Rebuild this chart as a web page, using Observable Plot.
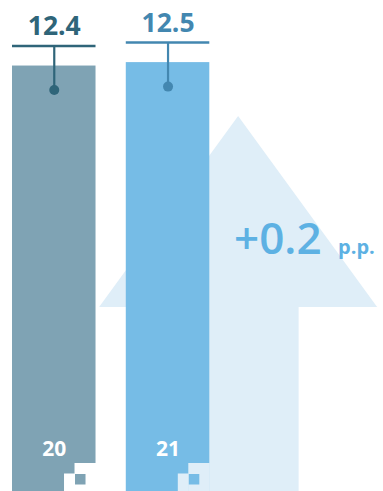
<!DOCTYPE html>
<html>
<head>
<meta charset="utf-8">
<script src="https://cdn.jsdelivr.net/npm/d3@7"></script>
<script src="https://cdn.jsdelivr.net/npm/@observablehq/plot@0.6"></script>
<style>
  html, body { margin: 0; padding: 0; background: #fff; }
  #chart svg { display: block; font-family: "Open Sans", sans-serif; }
</style>
</head>
<body>
<div id="chart"></div>
<script>
// ---- data ----
const years = ["20", "21"];
const values = [12.4, 12.5];
const valueLabels = ["12.4", "12.5"];
const changeLabel = "+0.2";
const changeUnit = "p.p.";

// ---- styles ----
const barColors = ["#7fa3b4", "#76bce6"];
const accentColors = ["#2f6579", "#4387b0"];
const arrowColor = "#dfeef8";
const changeColor = "#5db1e3";

const data = years.map((y, i) => ({year: y, value: values[i], label: valueLabels[i], bar: barColors[i], accent: accentColors[i]}));

const W = 383, H = 491;

// decorative up-arrow drawn behind the bars, anchored to the second bar
function arrowMark(index, scales, values, dims) {
  const x = scales.x, y = scales.y;
  const bw = x.bandwidth();
  const x0 = x(years[1]);
  const top = y(data[1].value);
  const cx = x0 + bw * 1.345;
  const shaftHalf = 60.5, headHalf = 139;
  const tipY = top + 54, baseY = top + 245;
  const B = dims.height;
  const p = d3.path();
  p.moveTo(cx, tipY);
  p.lineTo(cx + headHalf, baseY);
  p.lineTo(cx + shaftHalf, baseY);
  p.lineTo(cx + shaftHalf, B);
  p.lineTo(cx - shaftHalf, B);
  p.lineTo(cx - shaftHalf, baseY);
  p.lineTo(cx - headHalf, baseY);
  p.closePath();
  const g = d3.create("svg:g");
  g.append("path").attr("d", p.toString()).attr("fill", arrowColor);
  return g.node();
}

// pixel-step notch at the bottom-right corner of each bar
function notchMark(index, scales, values, dims) {
  const x = scales.x;
  const bw = x.bandwidth();
  const B = dims.height;
  const u = 10.5;
  const g = d3.create("svg:g");
  data.forEach((d, i) => {
    const R = x(d.year) + bw;
    const bg = i === 0 ? "#ffffff" : arrowColor;
    g.append("rect").attr("x", R - 2 * u).attr("y", B - 28).attr("width", 2 * u + 0.5).attr("height", 30).attr("fill", bg);
    g.append("rect").attr("x", R - 3 * u).attr("y", B - 17.5).attr("width", u + 0.5).attr("height", 20).attr("fill", bg);
    g.append("rect").attr("x", R - 2 * u + 0.5).attr("y", B - 17).attr("width", u).attr("height", u).attr("fill", d.bar);
  });
  return g.node();
}

const chart = Plot.plot({
  width: W,
  height: H,
  margin: 0,
  style: {background: "transparent", fontFamily: "'Open Sans', sans-serif", overflow: "visible"},
  x: {type: "band", domain: years, range: [12, 209.3], paddingInner: 0.266, paddingOuter: 0, round: false, axis: null},
  y: {type: "linear", domain: [0, 14.31], axis: null},
  marks: [
    arrowMark,
    Plot.barY(data, {x: "year", y: "value", fill: "bar", insetLeft: 0, insetRight: 0}),
    notchMark,
    Plot.tickY(data, {x: "year", y: "value", stroke: "accent", strokeWidth: 2.5, dy: -20}),
    Plot.ruleX(data, {x: "year", y1: "value", y2: "value", stroke: "accent", strokeWidth: 2.2, insetTop: -20, insetBottom: -24}),
    Plot.dot(data, {x: "year", y: "value", fill: "accent", r: 5, dy: 24}),
    Plot.text(data, {x: "year", y: "value", text: "label", fill: "accent", fontSize: 26.5, fontWeight: 700, lineAnchor: "bottom", dy: -31}),
    Plot.text(data, {x: "year", y: 0, text: "year", fill: "#ffffff", fontSize: 21, fontWeight: 700, lineAnchor: "bottom", dy: -36}),
    Plot.text([changeLabel], {x: () => years[1], y: () => values[1], text: d => d, fill: changeColor, fontSize: 44, fontWeight: 600, textAnchor: "start", lineAnchor: "bottom", dx: 66, dy: 191}),
    Plot.text([changeUnit], {x: () => years[1], y: () => values[1], text: d => d, fill: changeColor, fontSize: 20, fontWeight: 700, textAnchor: "start", lineAnchor: "bottom", dx: 170, dy: 191})
  ]
});

document.getElementById("chart").appendChild(chart);
</script>
</body>
</html>
